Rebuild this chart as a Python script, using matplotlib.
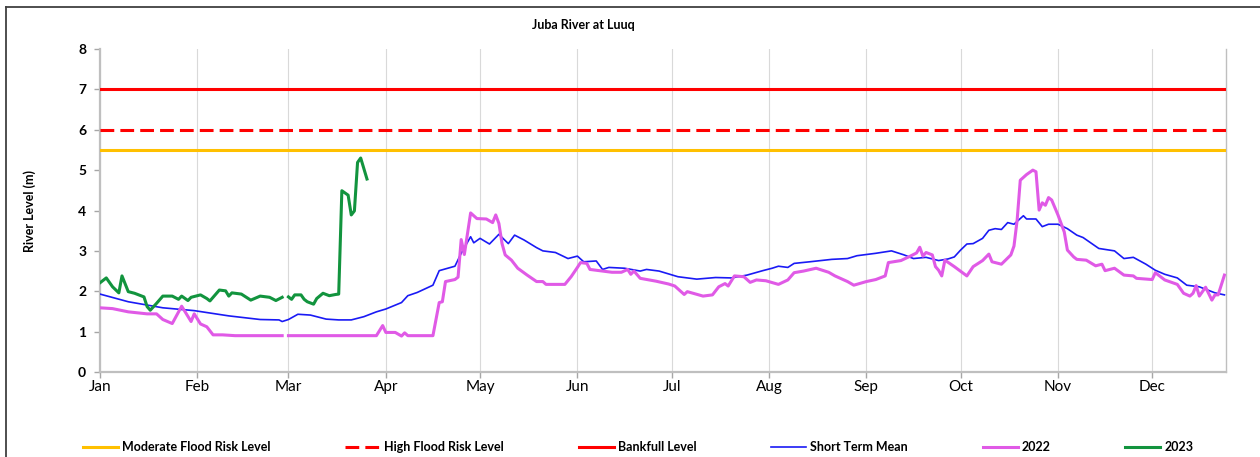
import numpy as np
import matplotlib
matplotlib.use("Agg")
import matplotlib.pyplot as plt
from matplotlib.lines import Line2D

plt.rcParams['font.family'] = ['Lato', 'DejaVu Sans']

# ---------------- data ----------------
month_labels = ['Jan', 'Feb', 'Mar', 'Apr', 'May', 'Jun', 'Jul', 'Aug', 'Sep', 'Oct', 'Nov', 'Dec']
month_start_days = [0, 31, 60, 91, 121, 152, 182, 213, 244, 274, 305, 335]

moderate_level = 5.5
high_level = 6.0
bankfull_level = 7.0

mean_days = [0, 9, 20, 30, 41, 51, 57, 58, 60, 63, 67, 72, 76, 80, 84, 88, 91, 96, 98, 101,
             106, 108, 113, 115, 118, 119, 121, 124, 127, 130, 132, 135, 139, 141, 145, 149,
             152, 154, 158, 160, 162, 167, 172, 174, 178, 181, 184, 190, 196, 201, 206, 211,
             214, 216, 219, 221, 226, 233, 238, 241, 243, 247, 252, 256, 259, 263, 267, 270,
             272, 274, 276, 278, 281, 283, 285, 287, 289, 291, 294, 295, 298, 300, 302, 305,
             308, 311, 313, 318, 323, 326, 329, 333, 336, 339, 343, 346, 350, 355, 358]
mean_vals = [1.93, 1.74, 1.59, 1.52, 1.39, 1.30, 1.29, 1.25, 1.30, 1.43, 1.41, 1.31, 1.29, 1.29,
             1.37, 1.49, 1.56, 1.72, 1.89, 1.97, 2.15, 2.51, 2.62, 2.94, 3.35, 3.20, 3.31, 3.17,
             3.41, 3.18, 3.39, 3.27, 3.08, 3.00, 2.96, 2.81, 2.87, 2.73, 2.75, 2.54, 2.59, 2.57,
             2.50, 2.54, 2.50, 2.43, 2.36, 2.30, 2.34, 2.33, 2.40, 2.51, 2.57, 2.62, 2.59, 2.69,
             2.73, 2.79, 2.81, 2.88, 2.90, 2.94, 3.00, 2.90, 2.81, 2.84, 2.76, 2.80, 2.85, 3.02,
             3.17, 3.18, 3.31, 3.51, 3.55, 3.53, 3.70, 3.66, 3.87, 3.79, 3.79, 3.60, 3.66, 3.66,
             3.55, 3.39, 3.33, 3.06, 3.00, 2.81, 2.84, 2.67, 2.52, 2.42, 2.33, 2.15, 2.11, 1.96,
             1.91]

y2022_days = [0, 4, 9, 15, 18, 20, 23, 26, 29, 30, 32, 34, 36, 39, 43, 58, 59, 60, 88, 90, 91,
              94, 96, 97, 98, 106, 108, 109, 110, 113, 114, 115, 116, 118, 120, 123, 125, 126,
              127, 128, 129, 131, 133, 136, 139, 141, 142, 148, 150, 152, 153, 155, 156, 160,
              163, 166, 168, 169, 170, 172, 177, 181, 183, 186, 187, 192, 195, 197, 199, 200,
              202, 205, 207, 209, 212, 216, 219, 221, 224, 228, 232, 234, 238, 240, 244, 247,
              250, 251, 255, 258, 260, 261, 262, 263, 265, 266, 267, 268, 269, 272, 276, 278,
              281, 283, 284, 287, 290, 291, 292, 293, 295, 297, 298, 299, 300, 301, 302, 303,
              305, 307, 308, 310, 311, 314, 317, 319, 320, 323, 326, 329, 330, 335, 336, 339,
              343, 345, 347, 348, 349, 350, 352, 354, 355, 356, 358]
y2022_vals = [1.59, 1.57, 1.49, 1.44, 1.44, 1.30, 1.20, 1.63, 1.25, 1.44, 1.19, 1.12, 0.92, 0.92,
              0.90, 0.90, np.nan, 0.90, 0.90, 1.15, 0.98, 0.98, 0.89, 0.97, 0.90, 0.90, 1.72,
              1.74, 2.24, 2.29, 2.35, 3.28, 2.91, 3.94, 3.80, 3.79, 3.70, 3.89, 3.68, 3.18, 2.90,
              2.77, 2.57, 2.40, 2.24, 2.24, 2.17, 2.17, 2.36, 2.59, 2.71, 2.69, 2.54, 2.50, 2.47,
              2.47, 2.54, 2.42, 2.50, 2.32, 2.25, 2.18, 2.13, 1.92, 1.99, 1.88, 1.91, 2.11, 2.19,
              2.13, 2.38, 2.36, 2.22, 2.28, 2.26, 2.17, 2.28, 2.46, 2.50, 2.57, 2.47, 2.38, 2.24,
              2.15, 2.24, 2.29, 2.38, 2.71, 2.76, 2.87, 2.95, 3.09, 2.87, 2.96, 2.90, 2.61, 2.52,
              2.38, 2.77, 2.61, 2.38, 2.61, 2.76, 2.92, 2.73, 2.67, 2.90, 3.12, 3.76, 4.75, 4.89,
              5.00, 4.96, 4.01, 4.19, 4.13, 4.32, 4.26, 3.89, 3.47, 3.02, 2.85, 2.79, 2.77, 2.63,
              2.67, 2.51, 2.57, 2.40, 2.38, 2.32, 2.29, 2.46, 2.28, 2.17, 1.95, 1.88, 1.95, 2.14,
              1.88, 2.10, 1.78, 1.91, 1.91, 2.40]

y2023_days = [0, 2, 4, 6, 7, 9, 11, 14, 15, 16, 18, 20, 23, 25, 26, 28, 29, 32, 34, 35, 38, 40,
              41, 42, 45, 48, 51, 54, 56, 58, 59, 60, 61, 62, 64, 65, 66, 68, 69, 71, 73, 75, 76,
              77, 79, 80, 81, 82, 83, 85]
y2023_vals = [2.21, 2.33, 2.11, 1.96, 2.38, 1.99, 1.95, 1.86, 1.62, 1.53, 1.70, 1.88, 1.88, 1.80,
              1.88, 1.77, 1.85, 1.91, 1.82, 1.76, 2.03, 2.01, 1.88, 1.96, 1.93, 1.78, 1.88, 1.85,
              1.77, 1.85, np.nan, 1.86, 1.80, 1.91, 1.91, 1.80, 1.74, 1.68, 1.82, 1.95, 1.89, 1.92,
              1.93, 4.49, 4.38, 3.89, 3.99, 5.19, 5.30, 4.78]

# ---------------- figure ----------------
W, H = 1260, 457
fig = plt.figure(figsize=(W / 100, H / 100), dpi=100)
ax = fig.add_axes([100 / W, 1 - 372 / H, (1226 - 100) / W, (372 - 49) / H])

c_mod = '#FFC000'
c_red = '#FF0000'
c_blue = '#1A1AF5'
c_mag = '#E05AE6'
c_green = '#12943E'

ax.axhline(moderate_level, color=c_mod, lw=2.2, label='Moderate Flood Risk Level', zorder=3)
ax.axhline(high_level, color=c_red, lw=2.2, ls=(0, (4.5, 2)), label='High Flood Risk Level', zorder=3)
ax.axhline(bankfull_level, color=c_red, lw=2.2, label='Bankfull Level', zorder=3)
ax.plot(mean_days, mean_vals, color=c_blue, lw=1.2, label='Short Term Mean', zorder=4)
ax.plot(y2022_days, y2022_vals, color=c_mag, lw=2.2, label='2022', zorder=5)
ax.plot(y2023_days, y2023_vals, color=c_green, lw=2.2, label='2023', zorder=6)

ax.set_xlim(0, 358.5)
ax.set_ylim(0, 8)
ax.set_xticks(month_start_days)
ax.set_xticklabels(month_labels, fontsize=11)
ax.set_yticks(range(0, 9))
ax.set_yticklabels([str(i) for i in range(0, 9)], fontsize=10, fontweight='bold')
ax.grid(axis='x', color='#D9D9D9', lw=0.8)
ax.set_axisbelow(True)
ax.tick_params(axis='both', colors='#A6A6A6', length=4, width=1)
ax.tick_params(axis='y', labelcolor='black', pad=6)
ax.tick_params(axis='x', labelcolor='black', pad=2)
ax.spines['top'].set_visible(False)
ax.spines['left'].set_color('#BFBFBF')
ax.spines['left'].set_linewidth(1.6)
ax.spines['bottom'].set_color('#BFBFBF')
ax.spines['bottom'].set_linewidth(1.6)
ax.spines['right'].set_color('#BFBFBF')
ax.spines['right'].set_linewidth(1.0)

ax.set_ylabel('River Level (m)', fontsize=9, fontweight='bold')
ax.yaxis.set_label_coords(-64 / (1226 - 100), 0.5)

fig.text(583 / W, 1 - 25 / H, 'Juba River at Luuq', ha='center', va='center',
         fontsize=9, fontweight='bold')

handles, labels = ax.get_legend_handles_labels()
leg = fig.legend(handles, labels, loc='center left', bbox_to_anchor=(83 / W, 1 - 447 / H),
                 ncol=6, frameon=False, fontsize=9, handlelength=2.8, handletextpad=0.3,
                 columnspacing=6.0, borderpad=0, borderaxespad=0)
for t in leg.get_texts():
    t.set_fontweight('bold')

# outer frame (left and top edges visible)
fig.add_artist(Line2D([6 / W, 6 / W], [0, 1 - 7 / H], color='#404040', lw=1.3))
fig.add_artist(Line2D([6 / W, 1], [1 - 7 / H, 1 - 7 / H], color='#404040', lw=1.3))

fig.savefig('out.png', dpi=100)
